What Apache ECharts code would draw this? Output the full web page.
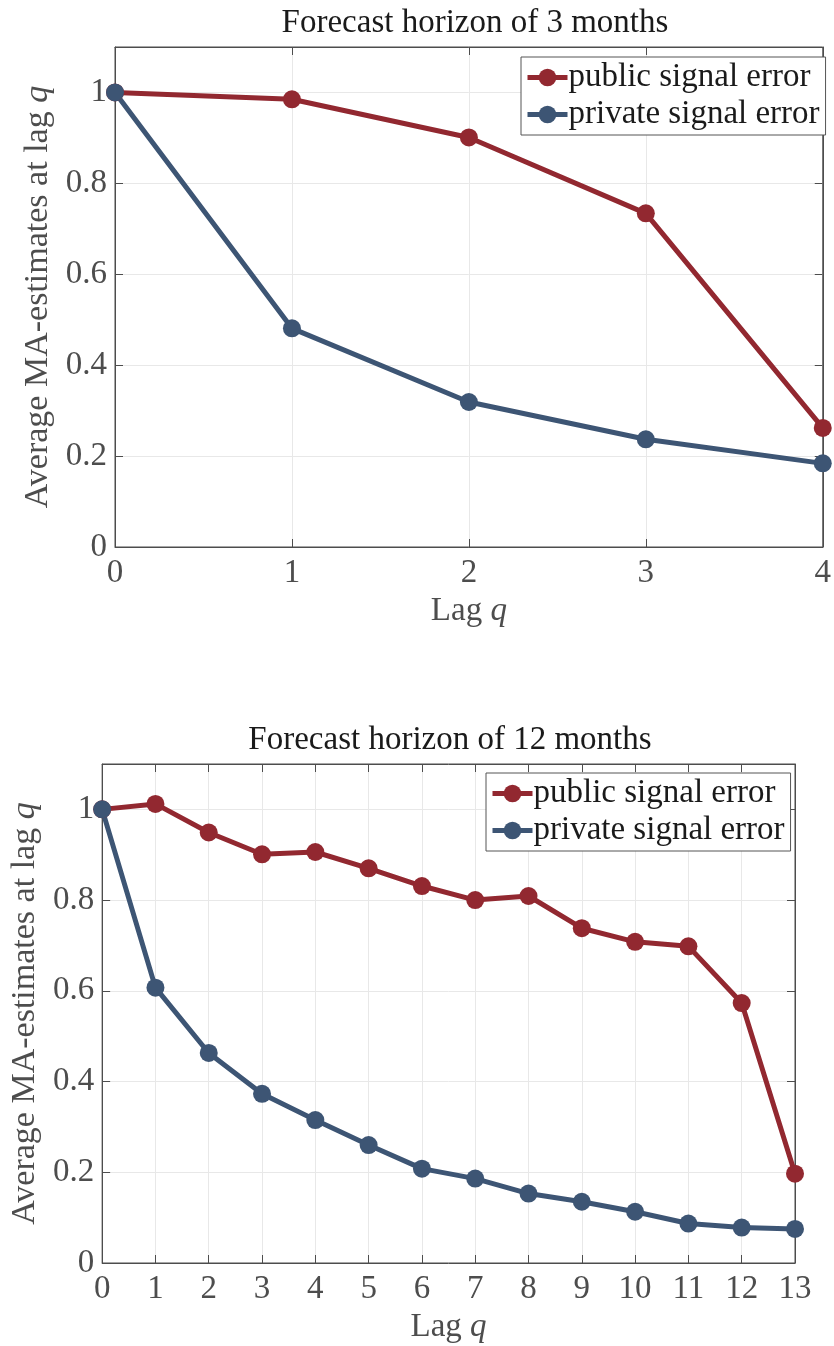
<html>
<head>
<meta charset="UTF-8">
<script src="https://cdn.jsdelivr.net/npm/echarts@6/dist/echarts.min.js"></script>
<style>
    body { margin: 0; background: #fff; }
    #chart { width: 834px; height: 1346px; }
</style>
</head>
<body>
<div id="chart"></div>
<script>
    // lag values
    var lags3 = [0, 1, 2, 3, 4];
    var lags12 = [0, 1, 2, 3, 4, 5, 6, 7, 8, 9, 10, 11, 12, 13];
    // 3 month horizon
    var public3 = [1.0, 0.985, 0.901, 0.734, 0.262];
    var private3 = [1.0, 0.481, 0.319, 0.237, 0.184];
    // 12 month horizon
    var public12 = [1.0, 1.012, 0.949, 0.901, 0.906, 0.870, 0.831, 0.800, 0.809, 0.738, 0.708, 0.698, 0.573, 0.197];
    var private12 = [1.0, 0.607, 0.463, 0.373, 0.315, 0.260, 0.208, 0.186, 0.153, 0.135, 0.113, 0.087, 0.078, 0.075];

    var FONT = 'Liberation Serif';
    var RED = '#922830';
    var BLUE = '#3d5574';
    var AX = '#4d4d4d';

    function pairs(xs, ys) {
        var out = [];
        for (var i = 0; i < xs.length; i++) out.push([xs[i], ys[i]]);
        return out;
    }

    function xAxisFor(grid, max, bottom) {
        return {
            type: 'value', gridIndex: grid, min: 0, max: max, interval: 1,
            position: bottom ? 'bottom' : 'top',
            name: bottom ? 'Lag {i|q}' : '', nameLocation: 'middle', nameGap: 48,
            nameTextStyle: { fontFamily: FONT, fontSize: 33, color: AX,
                rich: { i: { fontFamily: FONT, fontSize: 33, fontStyle: 'italic', color: AX } } },
            axisLine: { show: true, onZero: false, lineStyle: { color: AX, width: 1 } },
            axisTick: { show: true, inside: true, length: 8, lineStyle: { color: AX } },
            axisLabel: { show: bottom, margin: 10, fontFamily: FONT, fontSize: 33, color: AX },
            splitLine: { show: bottom, lineStyle: { color: '#e8e8e8', width: 1 } }
        };
    }

    function yAxisFor(grid, left) {
        return {
            type: 'value', gridIndex: grid, min: 0, max: 1.1, interval: 0.2,
            position: left ? 'left' : 'right',
            name: left ? 'Average MA-estimates at lag {i|q}' : '', nameLocation: 'middle', nameGap: 44,
            nameRotate: 90,
            nameTextStyle: { fontFamily: FONT, fontSize: 34, color: AX,
                rich: { i: { fontFamily: FONT, fontSize: 34, fontStyle: 'italic', color: AX } } },
            axisLine: { show: true, onZero: false, lineStyle: { color: AX, width: 1 } },
            axisTick: { show: true, inside: true, length: 8, lineStyle: { color: AX } },
            axisLabel: { show: left, margin: 8, fontFamily: FONT, fontSize: 33, color: AX,
                formatter: function (v) {
                    if (v > 1.05) return '';
                    return String(Math.round(v * 10) / 10);
                } },
            splitLine: { show: left, lineStyle: { color: '#e8e8e8', width: 1 } }
        };
    }

    function lineSeries(name, color, xi, yi, data) {
        return {
            name: name, type: 'line', xAxisIndex: xi, yAxisIndex: yi,
            data: data, symbol: 'circle', symbolSize: 18,
            lineStyle: { color: color, width: 5 },
            itemStyle: { color: color },
            emphasis: { disabled: true }
        };
    }

    function legendFor(left, top) {
        return {
            orient: 'vertical', left: left, top: top,
            data: ['public signal error', 'private signal error'],
            backgroundColor: '#fff', borderColor: '#555', borderWidth: 1,
            padding: [4, 6, 4, 4], itemGap: 4, itemWidth: 40, itemHeight: 22,
            lineStyle: { width: 5 },
            textStyle: { fontFamily: FONT, fontSize: 33, color: '#1a1a1a', padding: [0, 0, 0, -4] }
        };
    }

    var chart = echarts.init(document.getElementById('chart'));
    chart.setOption({
        animation: false,
        title: [
            { text: 'Forecast horizon of 3 months', left: 470, top: 2, textAlign: 'center',
              textStyle: { fontFamily: FONT, fontSize: 33, fontWeight: 'normal', color: '#1a1a1a' } },
            { text: 'Forecast horizon of 12 months', left: 445, top: 719, textAlign: 'center',
              textStyle: { fontFamily: FONT, fontSize: 33, fontWeight: 'normal', color: '#1a1a1a' } }
        ],
        legend: [legendFor(521, 57), legendFor(486, 773)],
        grid: [
            { left: 115, top: 47, width: 710, height: 500, show: true, borderColor: AX, borderWidth: 1 },
            { left: 96, top: 764, width: 699, height: 499, show: true, borderColor: AX, borderWidth: 1 }
        ],
        xAxis: [xAxisFor(0, 4, true), xAxisFor(0, 4, false), xAxisFor(1, 13, true), xAxisFor(1, 13, false)],
        yAxis: [yAxisFor(0, true), yAxisFor(0, false), yAxisFor(1, true), yAxisFor(1, false)],
        series: [
            lineSeries('public signal error', RED, 0, 0, pairs(lags3, public3)),
            lineSeries('private signal error', BLUE, 0, 0, pairs(lags3, private3)),
            lineSeries('public signal error', RED, 2, 2, pairs(lags12, public12)),
            lineSeries('private signal error', BLUE, 2, 2, pairs(lags12, private12))
        ]
    });
</script>
</body>
</html>
